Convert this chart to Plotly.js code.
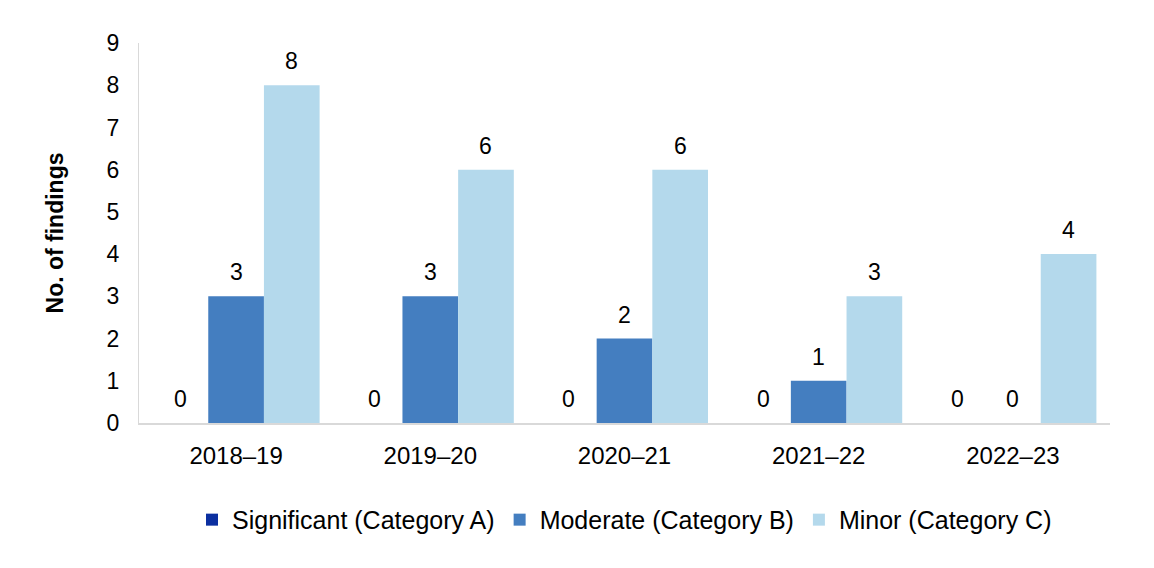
<!DOCTYPE html>
<html><head><meta charset="utf-8">
<script src="https://cdn.plot.ly/plotly-3.0.1.min.js"></script>
<style>html,body{margin:0;padding:0;background:#fff}#chart{width:1154px;height:568px}</style>
</head><body><div id="chart"></div>
<script>
const years = ["2018–19","2019–20","2020–21","2021–22","2022–23"];
const significant = [0,0,0,0,0];
const moderate = [3,3,2,1,0];
const minor = [8,6,6,3,4];
const seriesNames = ["Significant (Category A)","Moderate (Category B)","Minor (Category C)"];
const colors = ["#0B2FA0","#447EC0","#B4D9EC"];
const font = "Liberation Sans, Arial, sans-serif";
const FS = 23;
const series = [significant, moderate, minor];
const data = series.map((vals, i) => ({
  type: "bar", x: years, y: vals, name: seriesNames[i],
  marker: {color: colors[i]}
}));
// data labels as annotations, shifted to each bar's slot
const W = 1154, mL = 139, mR = 44;
const bargap = 0.14;
const catW = (W - mL - mR) / years.length;
const barW = catW * (1 - bargap) / series.length;
const annotations = [];
series.forEach((vals, i) => {
  vals.forEach((v, j) => {
    annotations.push({
      x: years[j], y: v, xref: "x", yref: "y", text: String(v), showarrow: false,
      xshift: (i - 1) * barW, yshift: 24, font: {family: font, size: FS, color: "#000"}
    });
  });
});
const layout = {
  width: W, height: 568,
  margin: {l: mL, r: mR, t: 43, b: 145},
  barmode: "group", bargap: bargap, bargroupgap: 0,
  font: {family: font, size: FS, color: "#000"},
  paper_bgcolor: "#fff", plot_bgcolor: "#fff",
  xaxis: {showline: true, linecolor: "#D9D9D9", linewidth: 2, ticks: "", tickfont: {size: 24}, showgrid: false, ticklabelstandoff: 10},
  yaxis: {range: [0, 9], dtick: 1, showline: true, linecolor: "#D9D9D9", linewidth: 1, showgrid: false, zeroline: false, ticks: "", tickfont: {size: FS}, ticklabelstandoff: 14,
    title: {text: "<b>No. of findings</b>", font: {size: FS}, standoff: 36}},
  legend: {orientation: "h", x: 0.5, xanchor: "center", y: -0.255, yanchor: "middle", font: {size: 25}, itemwidth: 30, traceorder: "normal"},
  annotations: annotations,
  showlegend: true
};
Plotly.newPlot("chart", data, layout, {displayModeBar: false, staticPlot: true});
</script></body></html>
